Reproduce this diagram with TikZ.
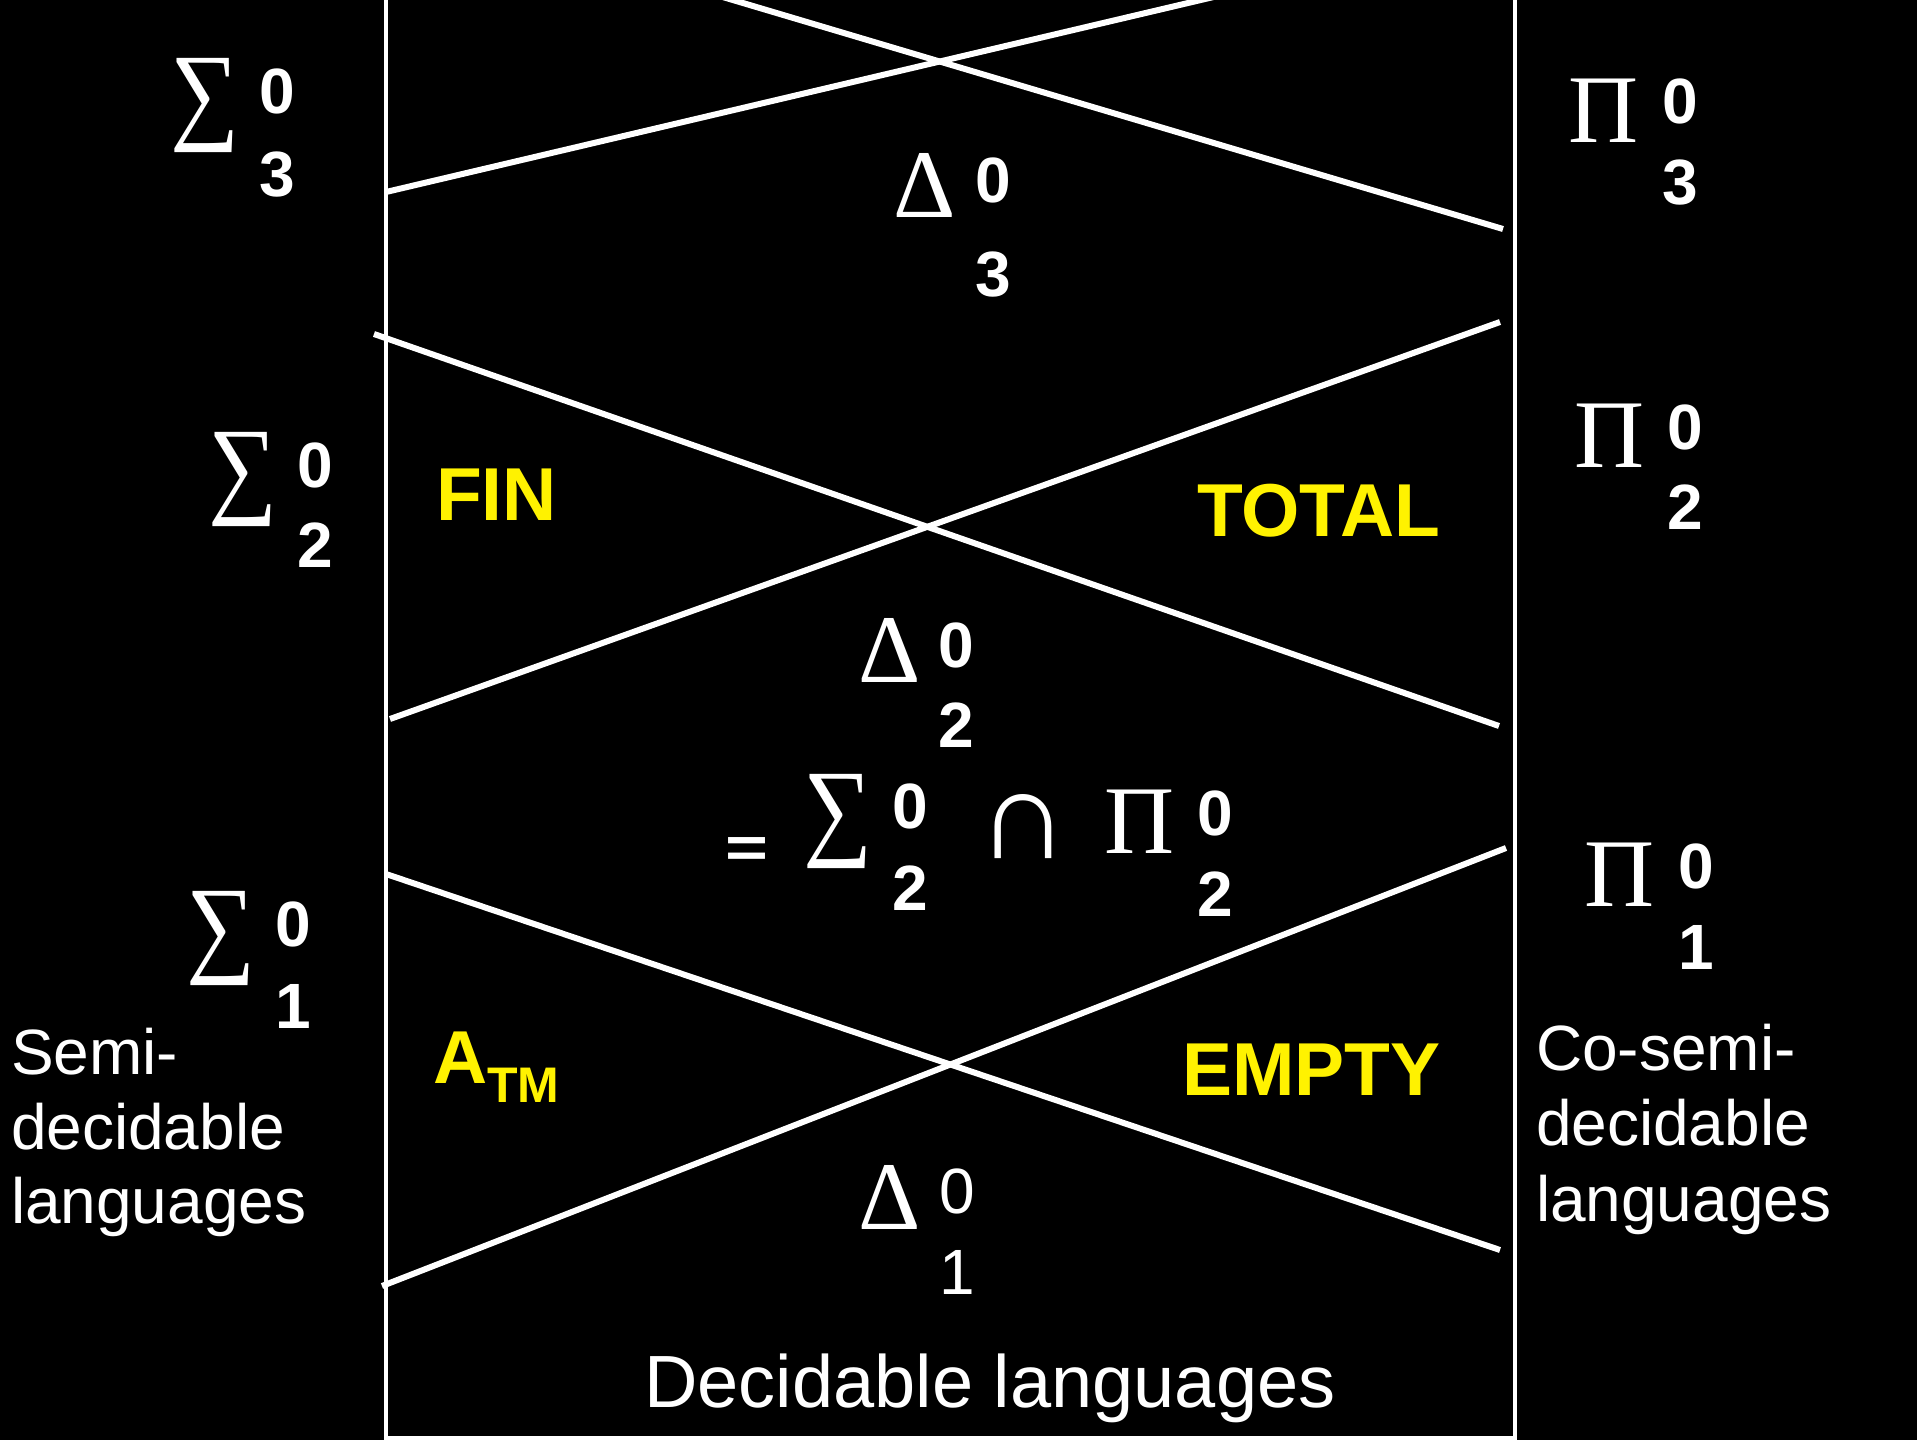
\documentclass[tikz,border=0pt]{standalone}
\usepackage{fontspec}
\setmainfont{Liberation Sans}
\newfontfamily\symf{Liberation Serif}
\newcommand{\bigsum}{\scalebox{1}[1.12]{∑}}
\begin{document}
\begin{tikzpicture}[x=1pt,y=-1pt]
\tikzset{
  bord/.style={draw=white, line width=4.5pt, line join=miter},
  diag/.style={draw=white, line width=6pt},
  ylab/.style={text=yellow, inner sep=0pt, outer sep=0pt, font=\bfseries\fontsize{75}{75}\selectfont},
  sym/.style={text=white, inner sep=0pt, outer sep=0pt, font=\symf\fontsize{97}{97}\selectfont},
  capsym/.style={text=white, inner sep=0pt, outer sep=0pt, font=\symf\fontsize{127}{127}\selectfont},
  dig/.style={text=white, inner sep=0pt, outer sep=0pt, font=\bfseries\fontsize{64}{64}\selectfont},
  digr/.style={text=white, inner sep=0pt, outer sep=0pt, font=\fontsize{64}{64}\selectfont},
  txt/.style={text=white, inner sep=0pt, outer sep=0pt, font=\fontsize{64}{64}\selectfont},
  btxt/.style={text=white, inner sep=0pt, outer sep=0pt, font=\fontsize{74}{74}\selectfont},
}
\fill[black] (0,0) rectangle (1917,1440);
\useasboundingbox (0,0) rectangle (1917,1440);
\begin{scope}
\clip (0,0) rectangle (1917,1440);
% frame
\coordinate (fTL) at (386,-10);
\coordinate (fBL) at (386,1438);
\coordinate (fBR) at (1515,1438);
\coordinate (fTR) at (1515,-10);
\draw[bord] (fTL) -- (fBL) -- (fBR) -- (fTR);
% diagonals
\coordinate (a1) at (386,192);   \coordinate (a2) at (1222,-5);
\coordinate (b1) at (716,-5);    \coordinate (b2) at (1503,229);
\coordinate (c1) at (374,334);   \coordinate (c2) at (1499,726);
\coordinate (d1) at (390,719);   \coordinate (d2) at (1500,322);
\coordinate (e1) at (386,874);   \coordinate (e2) at (1500,1250);
\coordinate (f1) at (382,1286);  \coordinate (f2) at (1506,848);
\draw[diag] (a1) -- (a2);
\draw[diag] (b1) -- (b2);
\draw[diag] (c1) -- (c2);
\draw[diag] (d1) -- (d2);
\draw[diag] (e1) -- (e2);
\draw[diag] (f1) -- (f2);
\end{scope}
% Sigma labels
\node[sym, anchor=center] (s3) at (205,105.5) {\bigsum};
\node[dig, anchor=base] (s3u) at (277,113) {0};
\node[dig, anchor=base] (s3d) at (277,196) {3};
\node[sym, anchor=center] (s2) at (243,479) {\bigsum};
\node[dig, anchor=base] (s2u) at (315,487) {0};
\node[dig, anchor=base] (s2d) at (315,567) {2};
\node[sym, anchor=center] (s1) at (221,938.5) {\bigsum};
\node[dig, anchor=base] (s1u) at (293,946) {0};
\node[dig, anchor=base] (s1d) at (293,1028) {1};
% Pi labels
\node[sym, anchor=base] (p3) at (1603.5,142) {Π};
\node[dig, anchor=base] (p3u) at (1680,123) {0};
\node[dig, anchor=base] (p3d) at (1680,204) {3};
\node[sym, anchor=base] (p2) at (1609.5,467) {Π};
\node[dig, anchor=base] (p2u) at (1685,449) {0};
\node[dig, anchor=base] (p2d) at (1685,529) {2};
\node[sym, anchor=base] (p1) at (1619.5,906) {Π};
\node[dig, anchor=base] (p1u) at (1696,888) {0};
\node[dig, anchor=base] (p1d) at (1696,969) {1};
% Delta labels
\node[sym, anchor=base] (d3) at (925,217) {Δ};
\node[dig, anchor=base] (d3u) at (993,202) {0};
\node[dig, anchor=base] (d3d) at (993,296) {3};
\node[sym, anchor=base] (d2) at (889.5,682) {Δ};
\node[dig, anchor=base] (d2u) at (956,667) {0};
\node[dig, anchor=base] (d2d) at (956,747) {2};
\node[sym, anchor=base] (d1) at (889.5,1229) {Δ};
\node[digr, anchor=base] (d1u) at (957,1213) {0};
\node[digr, anchor=base] (d1d) at (957,1294) {1};
% = Sigma cap Pi
\node[dig, anchor=base] (eq) at (746.5,867) {\scalebox{1.15}[0.9]{=}};
\node[sym, anchor=center] (sm) at (838,821.5) {\bigsum};
\node[dig, anchor=base] (smu) at (910,828) {0};
\node[dig, anchor=base] (smd) at (910,910) {2};
\node[capsym, anchor=base] (cap) at (1023,858) {∩};
\node[sym, anchor=base] (pm) at (1139.5,853) {Π};
\node[dig, anchor=base] (pmu) at (1215,835) {0};
\node[dig, anchor=base] (pmd) at (1215,916) {2};
% yellow labels
\node[ylab, anchor=base west] (fin) at (436,520) {FIN};
\node[ylab, anchor=base west] (total) at (1197,536) {TOTAL};
\node[ylab, anchor=base west] (empty) at (1182,1095) {EMPTY};
\node[ylab, anchor=base west] (atm) at (433,1083) {A\raisebox{-19pt}{\fontsize{50}{50}\selectfont TM}};
% side texts
\node[txt, anchor=base west] (sl1) at (11,1074) {Semi-};
\node[txt, anchor=base west] (sl2) at (11,1149) {decidable};
\node[txt, anchor=base west] (sl3) at (11,1223) {languages};
\node[txt, anchor=base west] (cl1) at (1536,1070) {Co-semi-};
\node[txt, anchor=base west] (cl2) at (1536,1145) {decidable};
\node[txt, anchor=base west] (cl3) at (1536,1221) {languages};
\node[btxt, anchor=base] (dec) at (990,1407) {Decidable languages};
\end{tikzpicture}
\end{document}
